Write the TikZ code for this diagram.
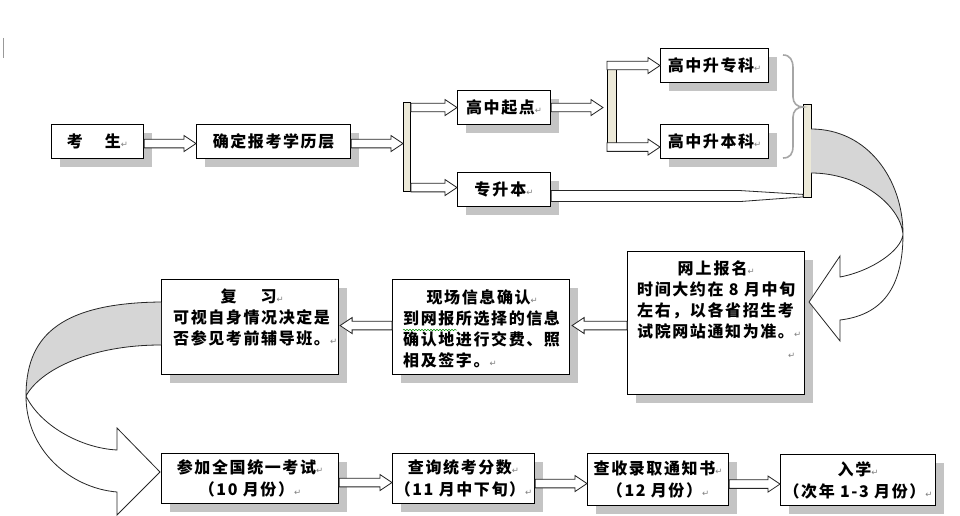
\documentclass[tikz,border=0pt]{standalone}
\usepackage{fontspec}
\newfontfamily\cjkf[LetterSpace=10]{Noto Sans CJK SC}
\newfontfamily\dvf{DejaVu Sans}
\usetikzlibrary{calc,shadows,decorations.pathmorphing}
\definecolor{beige}{HTML}{ECE9D8}
\definecolor{shadowgray}{HTML}{C4C4C4}
\definecolor{bandgray}{HTML}{D6D6D6}
\definecolor{markgray}{HTML}{808080}
\definecolor{bracegray}{HTML}{A6A6A6}
\newcommand\retmark{{\dvf\mdseries\fontsize{8.5}{8.5}\selectfont\textcolor{markgray}{↵}}}
\tikzset{
  flowbox/.style={draw, line width=1.1pt, fill=white, inner sep=0pt, anchor=north west,
    drop shadow={shadow xshift=8pt, shadow yshift=-8pt, fill=shadowgray, opacity=1},
    font=\cjkf\bfseries\fontsize{16}{22}\selectfont, align=center},
  barbox/.style={draw, line width=0.9pt, fill=beige, inner sep=0pt, anchor=north west},
  txtblock/.style={inner sep=0pt, anchor=north west, text width=160pt, align=left,
    font=\cjkf\bfseries\fontsize{16}{21}\selectfont},
  blockarrow/.style={draw=black!85, fill=white, line width=0.8pt, line join=miter},
  ribbonline/.style={draw=black!85, line width=0.8pt, line join=miter},
}
\newcommand\blkR[2]{\draw[blockarrow] let \p1=#1, \p2=#2 in
  (\x1,\y2+4.3pt) -- (\x2-12pt,\y2+4.3pt) -- (\x2-12pt,\y2+8pt) -- (\x2,\y2) --
  (\x2-12pt,\y2-8pt) -- (\x2-12pt,\y2-4.3pt) -- (\x1,\y2-4.3pt) -- cycle;}
\newcommand\blkL[2]{\draw[blockarrow] let \p1=#1, \p2=#2 in
  (\x1,\y2+4.3pt) -- (\x2+12pt,\y2+4.3pt) -- (\x2+12pt,\y2+8pt) -- (\x2,\y2) --
  (\x2+12pt,\y2-8pt) -- (\x2+12pt,\y2-4.3pt) -- (\x1,\y2-4.3pt) -- cycle;}
\begin{document}
\begin{tikzpicture}[x=1pt,y=-1pt]
\useasboundingbox (0,0) rectangle (960,516);
\fill[white] (0,0) rectangle (960,516);
\draw[black!40, line width=0.8pt] (3.5,38) -- (3.5,58);

% boxes
\node[flowbox, minimum width=92pt, minimum height=34pt] (ks) at (51,124) {考\hspace{22pt}生\retmark};
\node[flowbox, minimum width=154pt, minimum height=34pt] (qd) at (196,124) {确定报考学历层};
\node[flowbox, minimum width=93pt, minimum height=34pt] (gz) at (457,90) {高中起点\retmark};
\node[flowbox, minimum width=93pt, minimum height=34pt] (zsb) at (457,172) {专\hspace{2pt}升\hspace{2pt}本\retmark};
\node[flowbox, minimum width=108pt, minimum height=34pt] (gzzk) at (660,48) {高中升专科\retmark};
\node[flowbox, minimum width=108pt, minimum height=34pt] (gzbk) at (660,124) {高中升本科\retmark};
\node[flowbox, minimum width=177pt, minimum height=143pt] (ws) at (627,251) {};
\node[flowbox, minimum width=177pt, minimum height=95pt] (xc) at (392,279) {};
\node[flowbox, minimum width=177pt, minimum height=95pt] (fx) at (161,279) {};
\node[flowbox, minimum width=177pt, minimum height=50pt] (cj) at (161,453) {参加全国统一考试\retmark\\（10 月份）\retmark};
\node[flowbox, minimum width=142pt, minimum height=50pt] (cx) at (392,453) {查询统考分数\retmark\\（11 月中下旬）\retmark};
\node[flowbox, minimum width=141pt, minimum height=52pt] (cs) at (587,453) {查收录取通知书\retmark\\（12 月份）\retmark};
\node[flowbox, minimum width=155pt, minimum height=51pt] (rx) at (780,454) {入学\retmark\\（次年 1-3 月份）\retmark};

% texts of the tall boxes
\node[txtblock] (wst) at ($(ws.north west)+(10,10)$) {\makebox[158pt][c]{网\hspace{2pt}上\hspace{2pt}报\hspace{2pt}名\retmark}\\时间大约在 8 月中旬\\左右，以各省招生考\\试院网站通知为准。\retmark\\\makebox[158pt][r]{\retmark}};
\node[txtblock] (xct) at ($(xc.north west)+(11,10)$) {\makebox[158pt][c]{现场信息确认\retmark}\\到网报所选择的信息\\确认地进行交费、照\\相及签字。\retmark};
\node[txtblock] (fxt) at ($(fx.north west)+(12,10)$) {\makebox[158pt][c]{复\hspace{24pt}习\retmark}\\可视自身情况决定是\\否参见考前辅导班。\retmark};
\draw[green!55!black, line width=0.5pt, decorate, decoration={snake, amplitude=0.7pt, segment length=3pt}] (403,330) -- (457,330);

% bars
\node[barbox, minimum width=7pt, minimum height=89pt] (bar1) at (403,102) {};
\node[barbox, minimum width=9pt, minimum height=89pt] (bar2) at (607,62) {};
\node[barbox, minimum width=8pt, minimum height=93pt] (bar3) at (803,104) {};

% brace
\draw[bracegray, line width=1.6pt] (783,55) .. controls (790,55) and (793,60) .. (793,68) -- (793,97)
  .. controls (793,103) and (797,107) .. (803,107) .. controls (797,107) and (793,111) .. (793,117)
  -- (793,146) .. controls (793,154) and (790,158) .. (783,158);

% block arrows
\blkR{(ks.east)}{($(qd.west)+(0,2)$)}
\blkR{(qd.east)}{($(qd.east-|bar1.west)+(0,2)$)}
\blkR{(bar1.east)}{(gz.west)}
\blkR{(bar1.east)}{($(zsb.west)+(0,-2)$)}
\blkR{(gz.east)}{($(gz.east-|bar2.west)+(-4,0)$)}
\blkR{(bar2.west)}{(gzzk.west)}
\blkR{(bar2.west)}{($(gzbk.west)+(0,5.5)$)}
\blkL{(ws.west)}{($(xc.east)+(2,-1.5)$)}
\blkL{(xc.west)}{($(fx.east)+(1,-1.5)$)}
\blkR{(cj.east)}{($(cx.west)+(0,4)$)}
\blkR{(cx.east)}{($(cs.west)+(0,4)$)}
\blkR{(cs.east)}{($(rx.west)+(0,4)$)}
% tapered arrow
\draw[blockarrow] let \p1=(zsb.east), \p2=(bar3.south west) in
  (\x1,\y1-1pt) -- (\x2-63pt,\y1-1pt) -- (\x2,\y2+3.5pt) -- (\x2,\y2+1pt) -- (\x2-63pt,\y1-12pt) -- (\x1,\y1-12pt) -- cycle;

% right curved arrow
\fill[bandgray] (811,129) .. controls (868,129) and (903,180) .. (903,234)
  .. controls (900,205) and (860,173) .. (811,173) -- cycle;
\fill[white] (903,234) .. controls (903,288) and (882,315) .. (840,320) -- (840,341) -- (809,302)
  -- (840,256) -- (840,277) .. controls (872,271) and (902,250) .. (903,234) -- cycle;
\draw[ribbonline] (811,129) .. controls (868,129) and (903,180) .. (903,234)
  .. controls (903,288) and (882,315) .. (840,320) -- (840,341) -- (809,302) -- (840,256) -- (840,277)
  .. controls (872,271) and (902,250) .. (903,234) .. controls (900,205) and (860,173) .. (811,173);

% left curved arrow
\fill[bandgray] (161,302) .. controls (55,303) and (26,340) .. (26,396)
  .. controls (40,370) and (90,345) .. (161,345) -- cycle;
\fill[white] (26,396) .. controls (26,450) and (70,488) .. (117,492) -- (117,515) -- (160,472)
  -- (117,428) -- (117,450) .. controls (80,448) and (40,425) .. (26,396) -- cycle;
\draw[ribbonline] (161,302) .. controls (55,303) and (26,340) .. (26,396)
  .. controls (26,450) and (70,488) .. (117,492) -- (117,515) -- (160,472) -- (117,428) -- (117,450)
  .. controls (80,448) and (40,425) .. (26,396) .. controls (40,370) and (90,345) .. (161,345);
\end{tikzpicture}
\end{document}
